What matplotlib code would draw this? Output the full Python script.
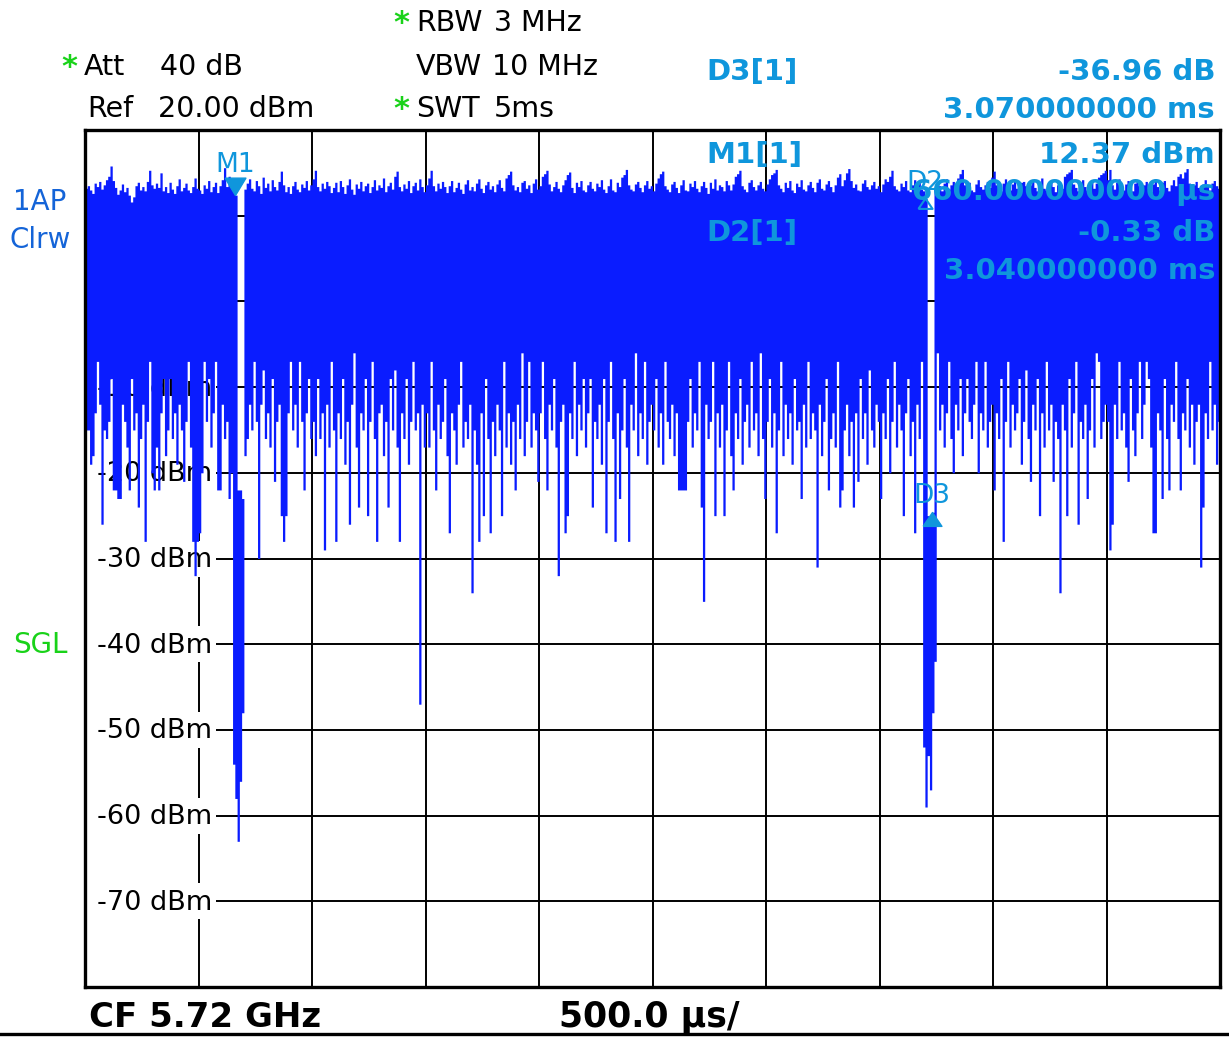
import numpy as np
import matplotlib
matplotlib.use("Agg")
import matplotlib.pyplot as plt
from matplotlib.patches import Rectangle
from matplotlib.lines import Line2D

# ---------------- data ----------------
sweep_ms = 5.0            # 10 div x 500 us
ref_level = 20.0          # dBm, top of screen
range_db = 100.0          # 10 div x 10 dB
level_ticks = [10, 0, -10, -20, -30, -40, -50, -60, -70]
time_ticks = [0.5, 1.0, 1.5, 2.0, 2.5, 3.0, 3.5, 4.0, 4.5]

# per display column (0.01 ms) maximum of the trace, dBm
trace_max = [
    13.2, 13.5, 13.0, 12.6, 13.8, 13.4, 14.0, 13.1, 13.6, 14.2,
    14.6, 15.8, 14.1, 13.3, 12.5, 13.0, 13.7, 12.8, 13.3, 12.4,
    11.6, 12.2, 13.5, 13.9, 13.0, 13.4, 12.9, 14.0, 15.3, 13.6,
    13.2, 13.8, 13.3, 15.0, 12.9, 13.4, 12.7, 13.9, 13.1, 12.6,
    13.5, 14.3, 12.9, 13.3, 13.8, 13.0, 12.7, 13.4, 14.4, 13.2,
    13.0, 12.6, 13.6, 13.2, 14.1, 12.8, 13.4, 13.9, 12.7, 13.5,
    14.2, 15.6, 13.4, 14.6, 13.5, 13.2, 12.4, -22.0, -22.0, -23.0,
    13.1, 13.8, 14.3, 13.2, 12.9, 14.1, 13.5, 12.6, 14.5, 13.3,
    13.8, 12.9, 14.2, 13.4, 13.0, 14.0, 15.2, 13.6, 12.8, 13.4,
    12.6, 13.5, 14.0, 13.1, 12.8, 13.7, 13.3, 14.1, 13.0, 13.6,
    14.3, 15.3, 13.4, 12.9, 13.8, 13.2, 14.0, 13.5, 12.7, 13.3,
    13.9, 12.8, 14.1, 13.4, 12.6, 13.6, 14.3, 13.1, 12.5, 13.7,
    13.2, 14.0, 12.9, 13.5, 13.8, 12.7, 13.4, 14.2, 13.0, 13.6,
    13.3, 14.4, 12.8, 13.5, 13.9, 13.1, 14.6, 15.2, 13.4, 12.9,
    13.7, 13.2, 14.1, 12.7, 13.5, 13.9, 13.0, 14.3, 13.4, 12.8,
    13.6, 14.4, 15.3, 13.5, 12.9, 13.8, 13.2, 14.0, 13.4, 12.7,
    13.5, 14.1, 12.8, 13.3, 13.9, 13.1, 12.6, 13.7, 14.2, 13.0,
    13.4, 12.9, 13.8, 14.3, 13.2, 12.7, 13.6, 14.0, 13.1, 13.5,
    12.8, 13.7, 14.2, 13.3, 12.9, 14.4, 14.8, 15.2, 13.6, 13.0,
    13.4, 12.8, 13.9, 14.1, 13.2, 13.6, 12.7, 13.8, 14.3, 13.1,
    13.5, 14.6, 14.9, 15.3, 13.7, 12.9, 13.4, 14.0, 13.2, 12.8,
    13.6, 14.2, 14.8, 15.1, 13.3, 12.7, 13.9, 13.4, 14.1, 13.0,
    12.8, 13.6, 14.0, 13.2, 12.9, 13.8, 13.4, 14.2, 13.1, 12.7,
    13.5, 14.3, 13.0, 12.8, 13.9, 13.4, 14.5, 14.8, 15.4, 13.6,
    13.1, 12.9, 13.7, 14.0, 13.3, 12.8, 13.6, 14.1, 13.2, 13.5,
    12.9, 13.8, 14.4, 14.9, 15.2, 13.5, 13.1, 12.8, 13.7, 14.0,
    13.3, 12.7, 13.6, 14.2, 13.0, 12.9, 13.8, 13.4, 14.1, 13.2,
    12.8, 13.5, 14.0, 13.3, 12.6, 13.9, 13.2, 14.3, 13.0, 13.6,
    13.4, 12.9, 14.1, 13.6, 13.0, 13.7, 14.6, 14.9, 15.3, 13.5,
    13.1, 12.8, 13.9, 14.2, 13.4, 13.0, 13.6, 14.0, 13.2, 12.9,
    13.7, 14.3, 14.8, 15.0, 15.4, 13.6, 13.2, 12.8, 13.9, 13.3,
    14.1, 13.0, 12.7, 13.8, 13.4, 14.2, 13.1, 12.9, 13.6, 14.0,
    13.3, 12.8, 13.9, 14.3, 13.2, 13.0, 13.7, 14.1, 13.4, 12.8,
    13.6, 14.5, 14.9, 13.5, 14.2, 15.0, 15.5, 14.1, 13.3, 13.7,
    13.0, 12.9, 13.8, 14.2, 13.4, 13.1, 13.6, 14.0, 13.2, 13.5,
    12.8, 13.7, 14.3, 14.0, 14.6, 15.3, 13.5, 13.1, 12.9, 13.8,
    13.4, 14.1, 13.0, 12.8, 13.6, 14.2, 13.3, 13.9, 13.1, 12.9,
    12.0, -25.0, -25.0, -24.6, 13.2, 14.0, 13.5, 12.9, 13.8, 14.3,
    13.1, 13.6, 14.0, 13.4, 14.4, 14.9, 15.4, 13.6, 13.2, 13.9,
    13.0, 12.8, 13.7, 14.2, 13.4, 13.1, 13.6, 14.0, 13.3, 14.5,
    15.2, 13.6, 13.1, 12.9, 13.8, 14.3, 13.4, 13.0, 13.7, 14.1,
    13.2, 12.8, 13.9, 14.0, 13.5, 13.1, 13.6, 14.2, 13.3, 12.9,
    13.8, 14.4, 13.2, 13.0, 13.7, 14.1, 13.4, 12.8, 13.6, 13.9,
    13.2, 14.6, 14.9, 15.1, 15.4, 13.7, 13.3, 12.9, 13.8, 14.2,
    13.4, 13.0, 13.6, 14.0, 13.2, 13.8, 14.5, 14.8, 15.0, 15.3,
    14.2, 15.4, 13.6, 13.1, 13.9, 14.3, 13.4, 13.0, 13.7, 14.1,
    13.3, 12.9, 13.8, 14.2, 13.5, 13.1, 13.6, 14.0, 13.2, 12.8,
    13.7, 14.3, 13.4, 13.0, 13.9, 14.1, 13.3, 12.9, 13.6, 14.2,
    13.5, 14.6, 14.9, 14.4, 15.1, 15.5, 13.8, 13.2, 13.6, 14.0,
    13.3, 12.9, 13.7, 14.2, 13.4, 13.0, 13.8, 14.1, 13.5, 13.2,
]

# per display column (0.01 ms) minimum of the trace, dBm
trace_min = [
    -15, -15, -19, -18, -13, -7, -12, -26, -15, -16,
    -14, -9, -22, -22, -23, -23, -12, -14, -17, -22,
    -9, -15, -13, -24, -16, -12, -28, -14, -7, -20,
    -22, -17, -22, -13, -9, -18, -15, -9, -16, -13,
    -19, -12, -15, -21, -14, -7, -17, -28, -32, -28,
    -27, -20, -7, -14, -9, -17, -13, -7, -22, -22,
    -12, -16, -14, -23, -20, -54, -58, -63, -56, -48,
    -18, -16, -12, -15, -7, -14, -30, -12, -8, -16,
    -13, -17, -9, -21, -14, -12, -25, -28, -25, -13,
    -7, -15, -12, -17, -7, -14, -22, -13, -9, -16,
    -14, -18, -9, -16, -13, -29, -12, -17, -7, -15,
    -28, -13, -16, -9, -19, -14, -26, -12, -6, -17,
    -24, -13, -15, -9, -25, -14, -7, -16, -28, -13,
    -12, -18, -14, -24, -9, -15, -8, -17, -28, -13,
    -16, -9, -19, -14, -7, -15, -13, -47, -12, -17,
    -13, -17, -7, -15, -22, -12, -16, -14, -9, -18,
    -27, -13, -15, -19, -12, -7, -17, -14, -16, -12,
    -34, -15, -19, -28, -13, -25, -9, -16, -27, -14,
    -18, -12, -15, -25, -7, -17, -13, -19, -14, -22,
    -12, -16, -6, -18, -14, -7, -17, -13, -15, -21,
    -13, -7, -16, -22, -12, -15, -9, -17, -32, -14,
    -12, -27, -25, -13, -16, -7, -18, -12, -15, -9,
    -17, -13, -9, -24, -14, -16, -12, -19, -9, -27,
    -14, -7, -16, -28, -13, -23, -15, -9, -17, -28,
    -12, -15, -6, -18, -13, -16, -7, -19, -14, -12,
    -15, -9, -17, -13, -19, -7, -14, -16, -12, -18,
    -13, -22, -22, -22, -22, -14, -9, -17, -13, -15,
    -7, -24, -35, -12, -16, -14, -7, -25, -13, -17,
    -12, -25, -15, -7, -18, -22, -13, -16, -9, -19,
    -14, -12, -17, -7, -15, -13, -18, -6, -16, -23,
    -14, -9, -17, -13, -27, -15, -7, -18, -12, -16,
    -13, -19, -9, -15, -14, -23, -12, -17, -7, -16,
    -13, -15, -31, -12, -18, -14, -9, -22, -16, -13,
    -17, -7, -24, -22, -15, -12, -18, -14, -24, -13,
    -21, -9, -16, -13, -19, -8, -15, -17, -12, -14,
    -23, -13, -16, -9, -20, -14, -7, -17, -12, -15,
    -25, -13, -9, -18, -14, -27, -12, -16, -7, -52,
    -59, -53, -57, -48, -42, -6, -15, -12, -17, -13,
    -7, -16, -20, -12, -15, -9, -18, -13, -9, -14,
    -16, -12, -7, -20, -13, -15, -7, -17, -14, -12,
    -22, -13, -16, -9, -28, -14, -7, -17, -12, -15,
    -13, -9, -19, -14, -8, -16, -21, -12, -15, -9,
    -25, -13, -17, -7, -15, -12, -21, -14, -16, -34,
    -12, -15, -25, -9, -17, -13, -7, -26, -14, -16,
    -12, -23, -15, -9, -17, -6, -7, -16, -14, -12,
    -14, -29, -26, -12, -16, -7, -15, -13, -17, -21,
    -9, -15, -18, -13, -7, -16, -12, -7, -9, -17,
    -27, -27, -13, -15, -23, -9, -16, -22, -12, -14,
    -7, -16, -22, -13, -15, -9, -17, -12, -19, -14,
    -12, -31, -24, -13, -16, -7, -15, -12, -19, -14,
]

# markers: name, time (ms), level (dBm)
marker_names = ["M1", "D2", "D3"]
marker_time_ms = [0.66, 3.70, 3.73]
marker_level_dbm = [12.37, 12.04, -24.59]

# marker readout table
readout_names = ["D3[1]", "M1[1]", "D2[1]"]
readout_values = ["-36.96 dB", "12.37 dBm", "-0.33 dB"]
readout_positions = ["3.070000000 ms", "660.000000000 \u00b5s", "3.040000000 ms"]

# ---------------- styling ----------------
W, H = 1229, 1037
TRACE = "#0a1cff"
MARK = "#0f96dc"
GREEN = "#19d219"
CHBLUE = "#1464d8"
plt.rcParams["font.family"] = ["DejaVu Sans"]

fig = plt.figure(figsize=(W / 100, H / 100), dpi=100)
fig.patch.set_facecolor("white")

L, R, T, B = 85, 1220, 130, 987
ax = fig.add_axes([L / W, 1 - B / H, (R - L) / W, (B - T) / H])
ax.set_xlim(0, sweep_ms)
ax.set_ylim(ref_level - range_db, ref_level)
ax.set_xticks([])
ax.set_yticks([])
for s in ax.spines.values():
    s.set_linewidth(2.4)
    s.set_color("black")
    s.set_zorder(10)

# grid
for tt in time_ticks:
    ax.axvline(tt, color="black", lw=1.4, zorder=1)
for lv in level_ticks:
    ax.axhline(lv, color="black", lw=1.4, zorder=1)

# level labels with white boxes
px_per_db = (B - T) / range_db
px_per_ms = (R - L) / sweep_ms
for lv in level_ticks:
    ax.add_patch(Rectangle((0, lv - 18 / px_per_db), 131 / px_per_ms, 36 / px_per_db,
                           facecolor="white", edgecolor="none", zorder=2))
    ax.text(12 / px_per_ms, lv - 8.5 / px_per_db, f"{lv} dBm", fontsize=19.5,
            va="baseline", ha="left", color="black", zorder=3)

# trace
n = len(trace_max)
hi = np.asarray(trace_max, float)
lo = np.asarray(trace_min, float)
t_edges = np.linspace(0, sweep_ms, n + 1)
ax.fill_between(t_edges, np.append(lo, lo[-1]), np.append(hi, hi[-1]), step="post",
                color=TRACE, linewidth=0, zorder=4)

# markers
down_tri = [(-0.6, 1.0), (0.6, 1.0), (0.0, 0.0), (-0.6, 1.0)]
up_tri = [(-0.68, -1.0), (0.68, -1.0), (0.0, 0.0), (-0.68, -1.0)]
for name, tm, lv in zip(marker_names, marker_time_ms, marker_level_dbm):
    if name == "M1":
        ax.plot([tm], [lv], marker=down_tri, ms=25, color=MARK, mec=MARK, zorder=6, ls="none")
        ax.annotate(name, (tm, lv), xytext=(0, 17), textcoords="offset points",
                    ha="center", va="baseline", fontsize=19, color=MARK, zorder=7)
    elif name == "D2":
        ax.plot([tm], [lv], marker=up_tri, ms=15, mfc="none", mec=MARK, mew=1.5,
                zorder=6, ls="none")
        ax.annotate(name, (tm, lv), xytext=(0, 6), textcoords="offset points",
                    ha="center", va="baseline", fontsize=19, color=MARK, zorder=7)
    else:
        ax.plot([tm], [lv], marker=up_tri, ms=20, color=MARK, mec=MARK, zorder=6, ls="none")
        ax.annotate(name, (tm, lv), xytext=(0, 6.5), textcoords="offset points",
                    ha="center", va="baseline", fontsize=19, color=MARK, zorder=7)


def ftext(x, y, s, **kw):
    fig.text(x / W, 1 - y / H, s, **kw)


# header
hdr = dict(fontsize=20.5, va="baseline", color="black")
ftext(61, 76, "*", fontsize=22, va="baseline", color=GREEN, fontweight="bold")
ftext(84, 75, "Att", ha="left", **hdr)
ftext(160, 75, "40 dB", ha="left", **hdr)
ftext(87, 117, "Ref", ha="left", **hdr)
ftext(158, 117, "20.00 dBm", ha="left", **hdr)
ftext(393, 32, "*", fontsize=22, va="baseline", color=GREEN, fontweight="bold")
ftext(416, 31, "RBW", ha="left", **hdr)
ftext(494, 31, "3 MHz", ha="left", **hdr)
ftext(416, 75, "VBW", ha="left", **hdr)
ftext(492, 75, "10 MHz", ha="left", **hdr)
ftext(393, 118, "*", fontsize=22, va="baseline", color=GREEN, fontweight="bold")
ftext(416, 117, "SWT", ha="left", **hdr)
ftext(494, 117, "5ms", ha="left", **hdr)

# readouts
ro = dict(fontsize=21, fontweight="bold", color=MARK, va="baseline", zorder=20)
rows_y = [(80, 118), (163, 200), (241, 279)]
for (y1, y2), nm, val, pos in zip(rows_y, readout_names, readout_values, readout_positions):
    ftext(706, y1, nm, ha="left", **ro)
    ftext(1215, y1, val, ha="right", **ro)
    ftext(1215, y2, pos, ha="right", **ro)

# left side labels
ftext(40, 210, "1AP", ha="center", va="baseline", fontsize=20, color=CHBLUE)
ftext(40, 248, "Clrw", ha="center", va="baseline", fontsize=20, color=CHBLUE)
ftext(40, 653, "SGL", ha="center", va="baseline", fontsize=20, color=GREEN)

# footer
ftext(89, 1027, "CF 5.72 GHz", ha="left", va="baseline", fontsize=24.5, fontweight="bold")
ftext(559, 1027, "500.0 \u00b5s/", ha="left", va="baseline", fontsize=25, fontweight="bold")

# bottom rule of the screen
fig.add_artist(Line2D([0, 1], [1 - 1034 / H, 1 - 1034 / H], transform=fig.transFigure,
                      color="black", lw=2.4))

fig.savefig("out.png", dpi=100, facecolor="white")
